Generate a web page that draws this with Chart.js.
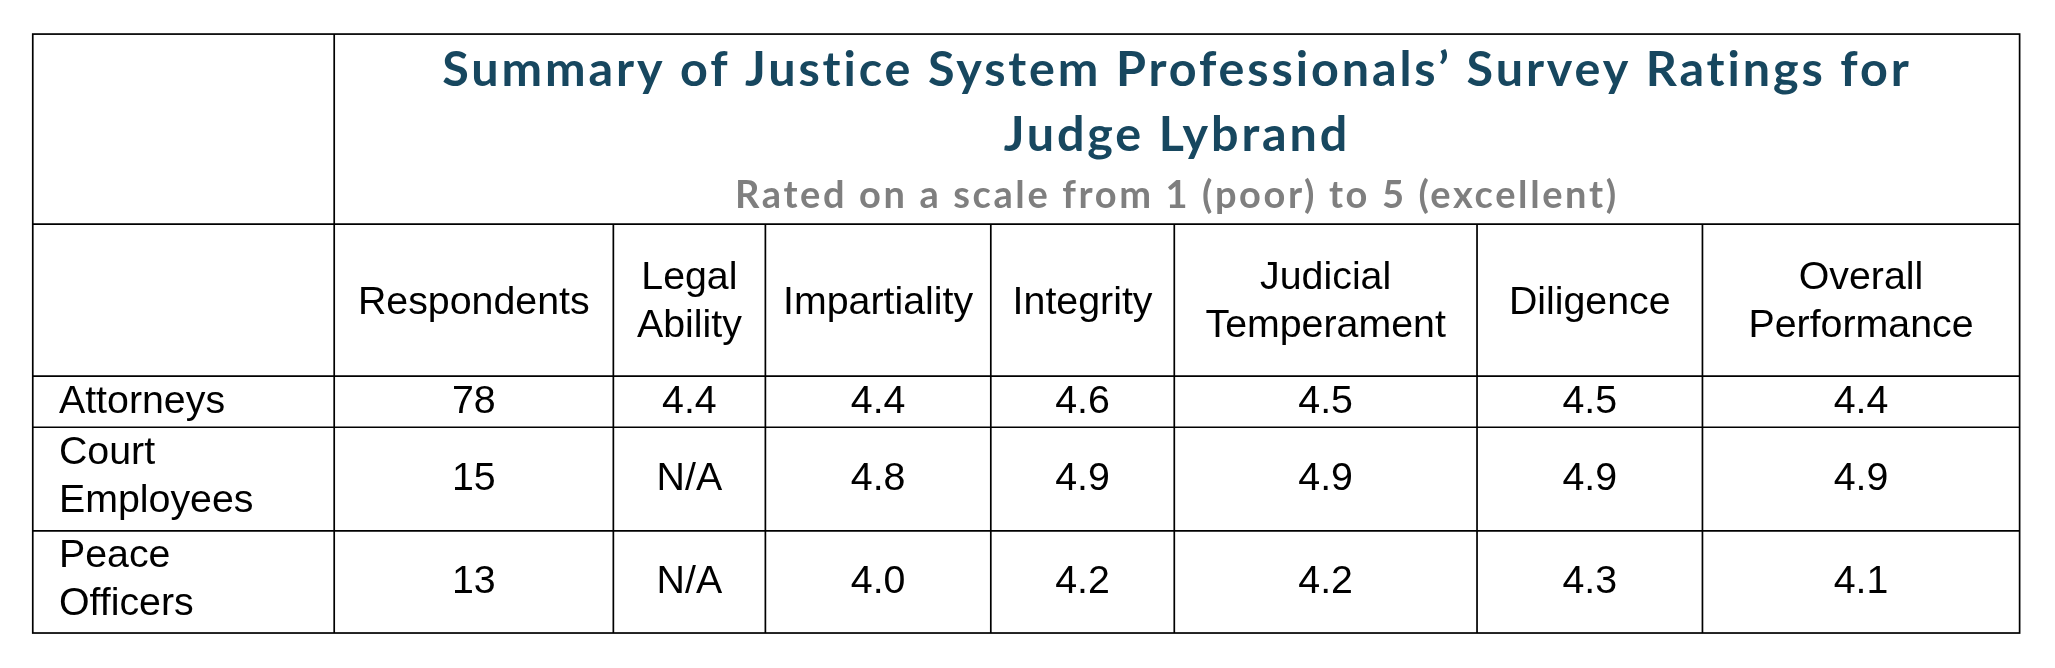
<!DOCTYPE html>
<html><head><meta charset="utf-8">
<script src="https://cdn.jsdelivr.net/npm/chart.js@4"></script>
<style>html,body{margin:0;padding:0;background:#fff}#wrap{width:2055px;height:668px}</style>
</head><body><div id="wrap"><canvas id="c"></canvas></div>
<script>
const titleLines = ["Summary of Justice System Professionals\u2019 Survey Ratings for", "Judge Lybrand"];
const subtitle = "Rated on a scale from 1 (poor) to 5 (excellent)";
const headers = [["Respondents"], ["Legal", "Ability"], ["Impartiality"], ["Integrity"], ["Judicial", "Temperament"], ["Diligence"], ["Overall", "Performance"]];
const groups = [["Attorneys"], ["Court", "Employees"], ["Peace", "Officers"]];
const respondents = ["78", "15", "13"];
const legalAbility = ["4.4", "N/A", "N/A"];
const impartiality = ["4.4", "4.8", "4.0"];
const integrity = ["4.6", "4.9", "4.2"];
const temperament = ["4.5", "4.9", "4.2"];
const diligence = ["4.5", "4.9", "4.3"];
const overall = ["4.4", "4.9", "4.1"];
const columns = [respondents, legalAbility, impartiality, integrity, temperament, diligence, overall];

const S = 2055 / 1568;
const colX = [25, 255, 468, 584, 756, 896, 1127, 1299, 1541];
const rowY = [26, 171, 287, 326, 405, 483];

const tablePlugin = {
  id: 'table',
  afterDraw(chart) {
    const ctx = chart.ctx;
    ctx.save();
    ctx.scale(S, S);
    ctx.strokeStyle = '#000'; ctx.lineWidth = 1.3;
    ctx.strokeRect(colX[0], rowY[0], colX[8] - colX[0], rowY[5] - rowY[0]);
    ctx.beginPath();
    ctx.moveTo(colX[1], rowY[0]); ctx.lineTo(colX[1], rowY[5]);
    for (let i = 2; i < 8; i++) { ctx.moveTo(colX[i], rowY[1]); ctx.lineTo(colX[i], rowY[5]); }
    for (let j = 1; j < 5; j++) { ctx.moveTo(colX[0], rowY[j]); ctx.lineTo(colX[8], rowY[j]); }
    ctx.stroke();
    ctx.textAlign = 'center'; ctx.textBaseline = 'middle';
    const tc = (colX[1] + colX[8]) / 2;
    ctx.fillStyle = '#17475f'; ctx.font = 'bold 37px Lato';
    ctx.letterSpacing = '2.2px';
    ctx.fillText(titleLines[0], tc, 54);
    ctx.fillText(titleLines[1], tc, 103);
    ctx.fillStyle = '#7f7f7f'; ctx.font = 'bold 29px Lato';
    ctx.letterSpacing = '2px';
    ctx.fillText(subtitle, tc, 149);
    ctx.letterSpacing = '0px';
    ctx.fillStyle = '#000'; ctx.font = '30px "Liberation Sans"';
    const hc = (rowY[1] + rowY[2]) / 2;
    headers.forEach((h, i) => {
      const cx = (colX[i + 1] + colX[i + 2]) / 2;
      if (h.length === 1) ctx.fillText(h[0], cx, hc + 2);
      else { ctx.fillText(h[0], cx, hc - 17); ctx.fillText(h[1], cx, hc + 20); }
    });
    groups.forEach((g, r) => {
      const cy = (rowY[r + 2] + rowY[r + 3]) / 2;
      ctx.textAlign = 'left';
      if (g.length === 1) ctx.fillText(g[0], 45, cy);
      else { ctx.fillText(g[0], 45, cy - 20); ctx.fillText(g[1], 45, cy + 17); }
      ctx.textAlign = 'center';
      columns.forEach((col, i) => {
        ctx.fillText(col[r], (colX[i + 1] + colX[i + 2]) / 2, cy);
      });
    });
    ctx.restore();
  }
};

new Chart(document.getElementById('c'), {
  type: 'scatter',
  data: { datasets: [] },
  options: {
    responsive: true, maintainAspectRatio: false, animation: false,
    layout: { padding: 0 },
    plugins: { legend: { display: false }, tooltip: { enabled: false } },
    scales: { x: { display: false }, y: { display: false } }
  },
  plugins: [tablePlugin]
});
</script></body></html>
